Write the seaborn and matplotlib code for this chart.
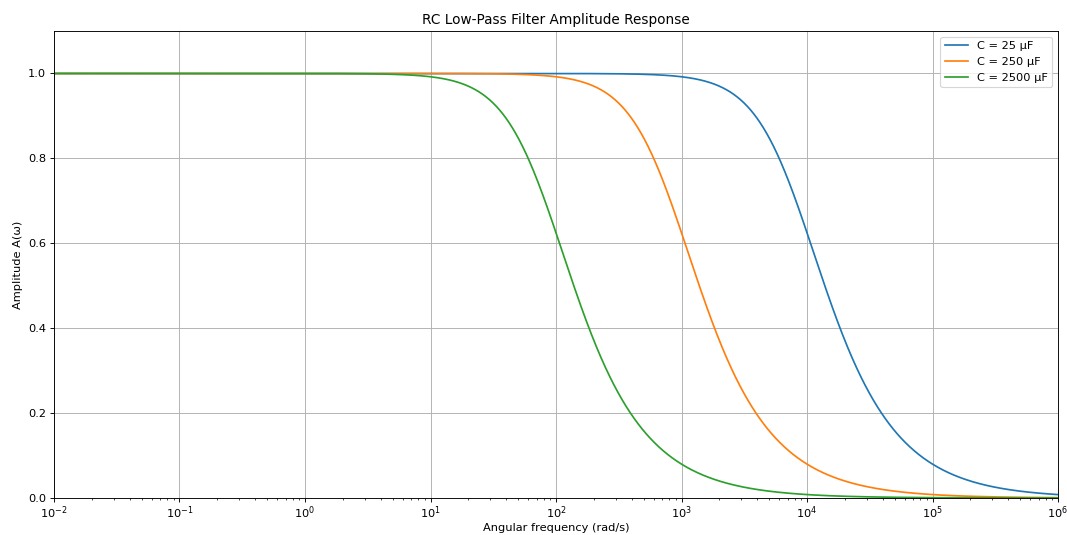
import numpy as np
import pandas as pd
import matplotlib
matplotlib.use("Agg")
import matplotlib.pyplot as plt
import seaborn as sns

# Circuit parameters
resistance_ohm = 5.0
capacitances_uF = [25, 250, 2500]
series_labels = ["C = 25 μF", "C = 250 μF", "C = 2500 μF"]
series_colors = ["#1f77b4", "#ff7f0e", "#2ca02c"]

# Angular frequency sweep (rad/s)
omega = np.logspace(-2, 6, 2000)

frames = []
for cap, label in zip(capacitances_uF, series_labels):
    rc = resistance_ohm * cap * 1e-6
    amplitude = 1.0 / np.sqrt(1.0 + (omega * rc) ** 2)
    frames.append(pd.DataFrame({"omega": omega, "amplitude": amplitude, "series": label}))
df = pd.concat(frames, ignore_index=True)

plt.rcParams["font.family"] = ["DejaVu Sans"]
DPI = 82.0
fig, ax = plt.subplots(figsize=(1067 / DPI, 535 / DPI), dpi=DPI)
fig.subplots_adjust(left=0.0506, right=0.9916, bottom=0.0692, top=0.942)

for label, color in zip(series_labels, series_colors):
    sub = df[df["series"] == label]
    sns.lineplot(data=sub, x="omega", y="amplitude", ax=ax, color=color,
                 label=label, linewidth=1.5)

ax.set_xscale("log")
ax.set_xlim(1e-2, 1e6)
ax.set_ylim(0, 1.1)
ax.set_xticks([10.0 ** k for k in range(-2, 7)])
ax.set_yticks([0.0, 0.2, 0.4, 0.6, 0.8, 1.0])
ax.tick_params(axis="x", which="major", pad=2.0)
ax.grid(True, which="major", color="#b0b0b0", linewidth=0.8)
ax.set_title("RC Low-Pass Filter Amplitude Response")
ax.set_xlabel("Angular frequency (rad/s)", labelpad=1.5)
ax.set_ylabel("Amplitude A(ω)")
ax.legend(loc="upper right")

fig.savefig("out.png", dpi=DPI)
